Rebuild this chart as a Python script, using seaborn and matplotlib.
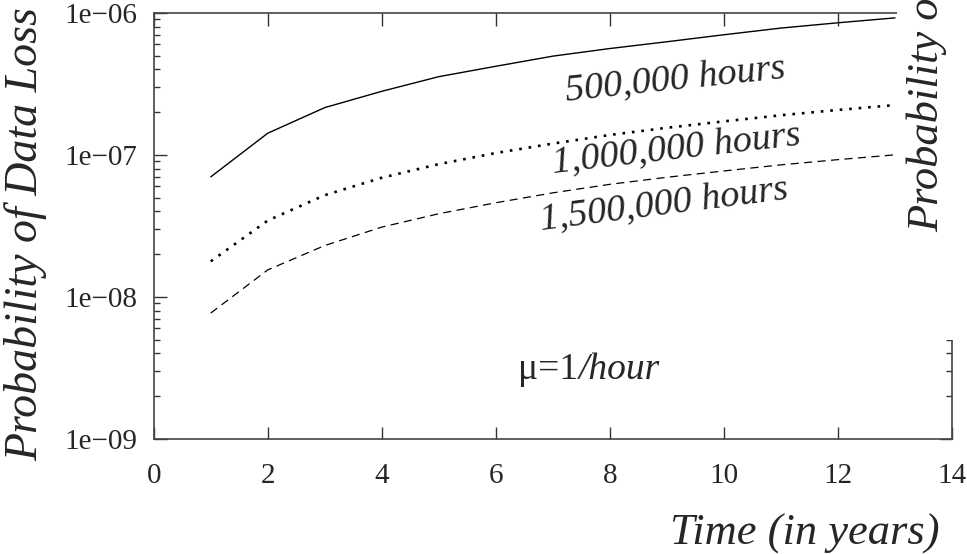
import matplotlib
matplotlib.use("Agg")
import math
import matplotlib.pyplot as plt
from matplotlib.ticker import LogLocator, FuncFormatter, NullFormatter, MultipleLocator
from matplotlib.patches import Rectangle
import seaborn as sns
import pandas as pd

# anos
years = [1, 2, 3, 4, 5, 6, 7, 8, 9, 10, 11, 12, 13]

# probabilidade de perda de dados
p_500k = [7.0e-8, 1.42e-7, 2.15e-7, 2.8e-7, 3.55e-7, 4.2e-7, 4.95e-7, 5.6e-7,
          6.25e-7, 7.0e-7, 7.8e-7, 8.5e-7, 9.2e-7]
p_1000k = [1.78e-8, 3.45e-8, 5.2e-8, 6.9e-8, 8.6e-8, 1.03e-7, 1.2e-7, 1.38e-7,
           1.55e-7, 1.72e-7, 1.9e-7, 2.07e-7, 2.24e-7]
p_1500k = [7.7e-9, 1.55e-8, 2.3e-8, 3.1e-8, 3.85e-8, 4.6e-8, 5.4e-8, 6.2e-8,
           6.95e-8, 7.7e-8, 8.5e-8, 9.25e-8, 1.0e-7]

series_labels = ["500,000 hours", "1,000,000 hours", "1,500,000 hours"]

df = pd.DataFrame({
    "year": years * 3,
    "prob": p_500k + p_1000k + p_1500k,
    "mttf": [series_labels[0]] * 13 + [series_labels[1]] * 13 + [series_labels[2]] * 13,
})

sns.set_style("ticks")
plt.rcParams["font.family"] = ["Liberation Serif", "DejaVu Serif"]

fig = plt.figure(figsize=(9.67, 5.54), dpi=100)
ax = fig.add_axes([0.159, 0.2076, 0.8255, 0.7694])

styles = {
    series_labels[0]: dict(linestyle="-", linewidth=1.0),
    series_labels[1]: dict(linestyle=(0, (1, 2.6)), linewidth=1.9),
    series_labels[2]: dict(linestyle=(0, (6.5, 4.3)), linewidth=0.9),
}
for lab in series_labels:
    sub = df[df["mttf"] == lab]
    sns.lineplot(data=sub, x="year", y="prob", ax=ax, color="black",
                 legend=False, **styles[lab])

ax.set_yscale("log")
ax.set_xlim(0, 14)
ax.set_ylim(1e-9, 1e-6)

ax.xaxis.set_major_locator(MultipleLocator(2))
ax.yaxis.set_major_locator(LogLocator(base=10, numticks=10))
ax.yaxis.set_minor_locator(LogLocator(base=10, subs=range(2, 10), numticks=10))
ax.yaxis.set_minor_formatter(NullFormatter())
ax.yaxis.set_major_formatter(FuncFormatter(lambda v, p: "1e\u2212%02d" % round(-math.log10(v))))

ax.tick_params(which="major", direction="in", length=9, width=1.0, color="#333333",
               labelsize=21, top=True, right=True)
ax.tick_params(axis="y", which="major", pad=12)
ax.tick_params(axis="x", which="major", pad=17)
ax.tick_params(which="minor", direction="in", length=4.5, width=1.0, color="#333333",
               top=True, right=True)
for s in ax.spines.values():
    s.set_color("#444444")
    s.set_linewidth(1.2)

ax.set_xlabel("Time (in years)", fontsize=32, style="italic", loc="right")
ax.xaxis.set_label_coords((940 - 154) / 798, -0.175)
ax.set_ylabel("Probability of Data Loss", fontsize=33, style="italic")
ax.yaxis.set_label_coords(-0.133, 0.48)

# rotulos das curvas
ax.text(9.14, 3.36e-7, series_labels[0], fontsize=27.5, style="italic",
        rotation=6, ha="center", va="center", rotation_mode="anchor")
ax.text(9.16, 1.08e-7, series_labels[1], fontsize=27.5, style="italic",
        rotation=6.5, ha="center", va="center", rotation_mode="anchor")
ax.text(8.95, 4.44e-8, series_labels[2], fontsize=27.5, style="italic",
        rotation=7.2, ha="center", va="center", rotation_mode="anchor")
ax.text(7.45, 3.06e-9, "\u03bc=1", fontsize=27, ha="right", va="center")
ax.text(7.45, 3.06e-9, "/hour", fontsize=27, style="italic", ha="left", va="center")

# pedaco do grafico vizinho cortado a direita
fig.patches.append(Rectangle((897 / 967, 1 - 340 / 554), 70 / 967, 340 / 554,
                             transform=fig.transFigure, facecolor="white",
                             edgecolor="none", zorder=5))
fig.text(927 / 967, 1 - 232 / 554, "Probability of Data Loss", fontsize=32,
         style="italic", rotation=90, ha="center", va="bottom", zorder=6)

fig.savefig("out.png", dpi=100)
